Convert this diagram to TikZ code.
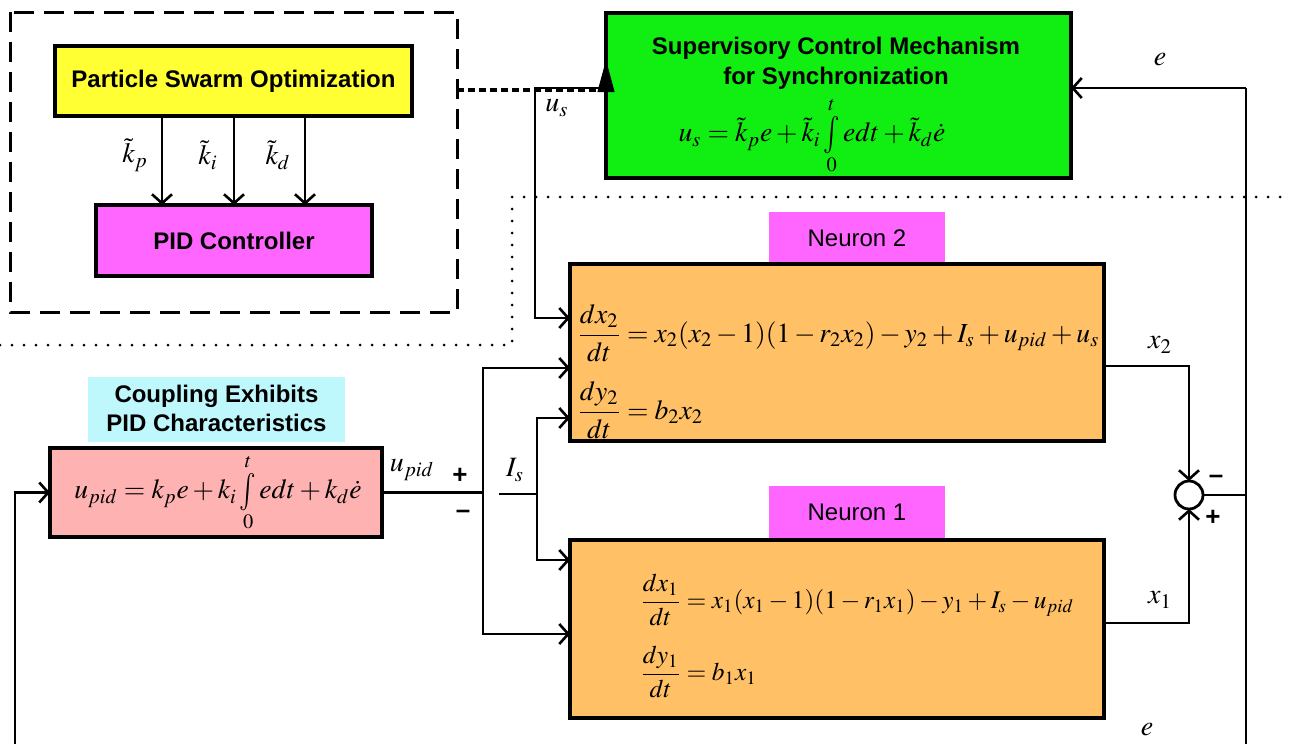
\documentclass[tikz,border=0pt]{standalone}
\usepackage{amsmath}
\usepackage{graphicx}
\usepackage{mathptmx}
\usepackage[no-math]{fontspec}
\setmainfont{Liberation Serif}
\setsansfont{Liberation Sans}
\usetikzlibrary{arrows.meta}
\newcommand{\tallint}{\mathop{\vcenter{\hbox{\scalebox{1}[1.35]{$\int$}}}}\limits}
\definecolor{psoY}{RGB}{255,255,51}
\definecolor{pidM}{RGB}{255,102,255}
\definecolor{supG}{RGB}{17,238,17}
\definecolor{neurO}{RGB}{255,192,102}
\definecolor{pinkB}{RGB}{255,178,178}
\definecolor{cyanB}{RGB}{190,247,252}
\tikzset{
  box/.style={draw=black,line width=1.6pt,inner sep=0pt,outer sep=0pt},
  tag/.style={inner sep=0pt,outer sep=0pt},
  arr/.style={line width=1.4pt,-{Straight Barb[length=4.5pt,width=10pt,line width=1.3pt]}},
  wire/.style={line width=1.4pt},
  ttl/.style={font=\fontsize{12}{15}\selectfont\sffamily\bfseries,align=center},
  lbl/.style={font=\fontsize{12}{15}\selectfont\sffamily},
  mth/.style={font=\fontsize{13.8}{17}\selectfont,inner sep=0pt},
  mthb/.style={font=\fontsize{12.7}{16}\selectfont,inner sep=0pt},
  sml/.style={font=\fontsize{14}{17}\selectfont,inner sep=0pt},
  sgn/.style={font=\fontsize{13}{13}\selectfont\sffamily\bfseries,inner sep=0pt},
}
\begin{document}
\begin{tikzpicture}[x=0.5pt,y=-0.5pt]
\useasboundingbox (0,0) rectangle (1291,744);

% dashed frame
\draw[line width=1.5pt,dash pattern=on 10pt off 5pt] (10,12) rectangle (457,312);

% dotted separator
\draw[line width=1.5pt,line cap=round,dash pattern=on 0pt off 6pt] (0,345) -- (512,345) -- (512,197) -- (1291,197);

% boxes
\node[box,fill=psoY,minimum width=178.5pt,minimum height=35pt] (pso) at (233.5,81) {};
\node[ttl] at (pso.center) {Particle Swarm Optimization};
\node[box,fill=pidM,minimum width=138pt,minimum height=35.5pt] (pidc) at (234,240.5) {};
\node[ttl] at (pidc.center) {PID Controller};

\node[box,fill=supG,minimum width=232.5pt,minimum height=82.5pt] (sup) at (838.5,95.5) {};
\node[ttl] (supt) at (836,63) {Supervisory Control Mechanism\\for Synchronization};
\node[mth] (supf) at (812,136) {$u_s=\tilde{k}_p e+\tilde{k}_i\tallint_0^t e dt+\tilde{k}_d\dot{e}$};

\node[tag,fill=pidM,minimum width=88pt,minimum height=26pt] (n2l) at (857,238) {};
\node[lbl] at (n2l.center) {Neuron 2};
\node[box,fill=neurO,minimum width=267pt,minimum height=88.5pt] (n2) at (837,352.5) {};
\node[mth,anchor=west] (n2a) at (577,333) {$\dfrac{dx_2}{dt}=x_2(x_2-1)(1-r_2x_2)-y_2+I_s+u_{pid}+u_s$};
\node[mth,anchor=west] (n2b) at (577,410) {$\dfrac{dy_2}{dt}=b_2x_2$};

\node[tag,fill=pidM,minimum width=88pt,minimum height=26pt] (n1l) at (857,512) {};
\node[lbl] at (n1l.center) {Neuron 1};
\node[box,fill=neurO,minimum width=267pt,minimum height=89pt] (n1) at (837,629) {};
\node[mthb,anchor=west] (n1a) at (640,600) {$\dfrac{dx_1}{dt}=x_1(x_1-1)(1-r_1x_1)-y_1+I_s-u_{pid}$};
\node[mthb,anchor=west] (n1b) at (640,672) {$\dfrac{dy_1}{dt}=b_1x_1$};

\node[tag,fill=cyanB,minimum width=128.5pt,minimum height=32.5pt] (cpl) at (216.5,409.5) {};
\node[ttl,font=\fontsize{12}{14.5}\selectfont\sffamily\bfseries] at (216.5,408) {Coupling Exhibits\\PID Characteristics};
\node[box,fill=pinkB,minimum width=166pt,minimum height=44.5pt] (pink) at (216,492.5) {};
\node[mth] (pinkf) at (218,493) {$u_{pid}=k_pe+k_i\tallint_0^t e dt+k_d\dot{e}$};

\node[draw,circle,line width=1.4pt,minimum size=14pt,inner sep=0pt,outer sep=0pt] (sum) at (1189,495) {};

% coordinates
\coordinate (ax1) at (162,0);
\coordinate (ax2) at (234,0);
\coordinate (ax3) at (305,0);
\coordinate (usc) at (535,88);
\coordinate (in2a) at (0,318);
\coordinate (in2b) at (0,368);
\coordinate (in2c) at (0,418);
\coordinate (in1a) at (0,560);
\coordinate (in1b) at (0,634);
\coordinate (j1) at (483,0);
\coordinate (is0) at (499,494);
\coordinate (is1) at (537,494);
\coordinate (eR) at (1246,88);
\coordinate (eB) at (1246,744);
\coordinate (lB) at (15,744);
\coordinate (o2) at (0,366);
\coordinate (o1) at (0,623);
\coordinate (dl0) at (457,90);
\coordinate (tb) at (606,92);
\coordinate (tt) at (606,60);

% PSO -> PID
\draw[arr] (pso.south -| ax1) -- (pidc.north -| ax1);
\draw[arr] (pso.south -| ax2) -- (pidc.north -| ax2);
\draw[arr] (pso.south -| ax3) -- (pidc.north -| ax3);
\node[sml] at (135,155) {$\tilde{k}_p$};
\node[sml] at (208,155) {$\tilde{k}_i$};
\node[sml] at (278,155) {$\tilde{k}_d$};

% u_s path
\draw[arr] (sup.west |- usc) -- (usc) |- (n2.west |- in2a);
\node[sml] at (557,108) {$u_s$};
% PSO tuning link
\draw[line width=2.2pt,dash pattern=on 3.5pt off 2pt] (dl0) -- (sup.west |- dl0);
\draw[line width=0.5pt,-{Triangle[length=16pt,width=8.5pt]}] (tb) -- (tt);

% e feedback to supervisory
\draw[arr] (eR) -- (sup.east |- eR);
\draw[wire] (eR) -- (eB);
\node[sml] at (1160,60) {$e$};
\node[sml] at (1147,730) {$e$};

% sum junction
\draw[wire] (sum.east) -- (sum.east -| eR);
\draw[arr] (n2.east |- o2) -| (sum.north);
\draw[arr] (n1.east |- o1) -| (sum.south);
\node[sml] at (1160,345) {$x_2$};
\node[sml] at (1160,600) {$x_1$};
\node[sgn] at (1216,479) {–};
\node[sgn] at (1213,518) {+};

% feedback into PID coupling
\draw[arr] (lB) |- (pink.west);

% u_pid distribution
\draw[wire] (pink.east) -- (pink.east -| j1);
\draw[arr] (pink.east -| j1) |- (n2.west |- in2b);
\draw[arr] (pink.east -| j1) |- (n1.west |- in1b);
\node[sml] at (412,470) {$u_{pid}$};
\node[sgn] at (460,476) {+};
\node[sgn] at (463,514) {–};

% I_s
\draw[wire] (is0) -- (is1);
\draw[arr] (is1) |- (n2.west |- in2c);
\draw[arr] (is1) |- (n1.west |- in1a);
\node[sml] at (515,470) {$I_s$};
\end{tikzpicture}
\end{document}
